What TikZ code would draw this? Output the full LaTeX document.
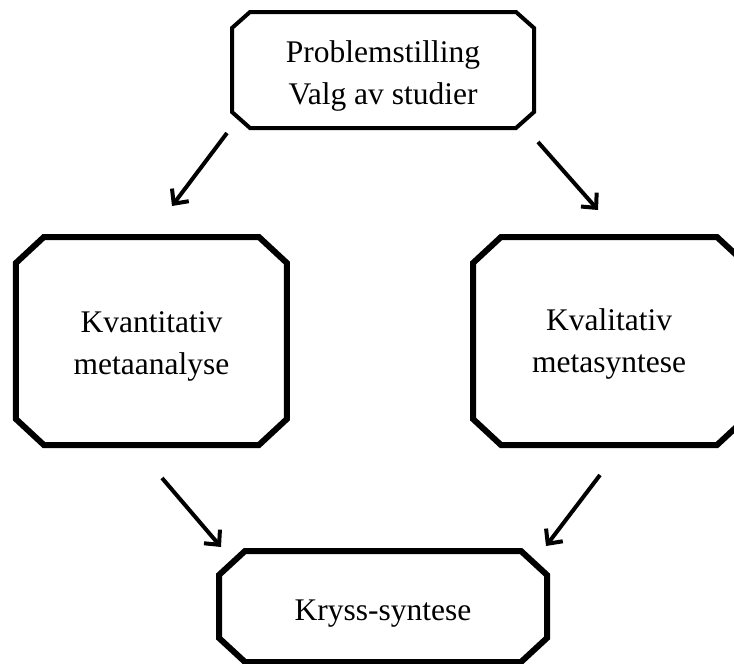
\documentclass[tikz,border=0pt]{standalone}
\usepackage{fontspec}
\setmainfont{Liberation Serif}
\usetikzlibrary{arrows.meta}
\newcommand\chamfbox[4]{%
  \draw[line width=#4, line join=miter]
    ([xshift=#2]#1.north west) -- ([xshift=-#2]#1.north east)
    -- ([yshift=-#3]#1.north east) -- ([yshift=#3]#1.south east)
    -- ([xshift=-#2]#1.south east) -- ([xshift=#2]#1.south west)
    -- ([yshift=#3]#1.south west) -- ([yshift=-#3]#1.north west) -- cycle;}
\begin{document}
\begin{tikzpicture}[x=1pt,y=-1pt,
  box/.style={rectangle, align=center, inner sep=0pt, outer sep=0pt,
    font=\fontsize{31.5}{42}\selectfont},
  flow/.style={line width=4pt, -{Straight Barb[length=11pt,width=21pt,line width=4pt]}}]
\useasboundingbox (0,0) rectangle (734,664);
\fill[white] (0,0) rectangle (734,664);
\node[box, minimum width=302pt, minimum height=116pt]
  (top) at (383,70) {\rule{0pt}{34pt}Problemstilling\\Valg av studier};
\node[box, minimum width=271pt, minimum height=208pt]
  (kvant) at (151.4,341) {\rule{0pt}{31pt}Kvantitativ\\metaanalyse};
\node[box, minimum width=272pt, minimum height=208pt]
  (kval) at (609,341) {\rule{0pt}{28pt}Kvalitativ\\metasyntese};
\node[box, minimum width=328pt, minimum height=111pt]
  (kryss) at (383,606.5) {\rule{0pt}{34pt}Kryss-syntese};
\chamfbox{top}{18pt}{16pt}{4pt}
\chamfbox{kvant}{28pt}{26pt}{6pt}
\chamfbox{kval}{28pt}{26pt}{6pt}
\chamfbox{kryss}{26pt}{24pt}{6pt}
\coordinate (a1) at (227,133);
\coordinate (a2) at (172,206);
\coordinate (b1) at (538,142);
\coordinate (b2) at (598,210);
\coordinate (c1) at (162,478);
\coordinate (c2) at (221,547);
\coordinate (d1) at (600,475);
\coordinate (d2) at (546,546);
\draw[flow] (a1) -- (a2);
\draw[flow] (b1) -- (b2);
\draw[flow] (c1) -- (c2);
\draw[flow] (d1) -- (d2);
\end{tikzpicture}
\end{document}
